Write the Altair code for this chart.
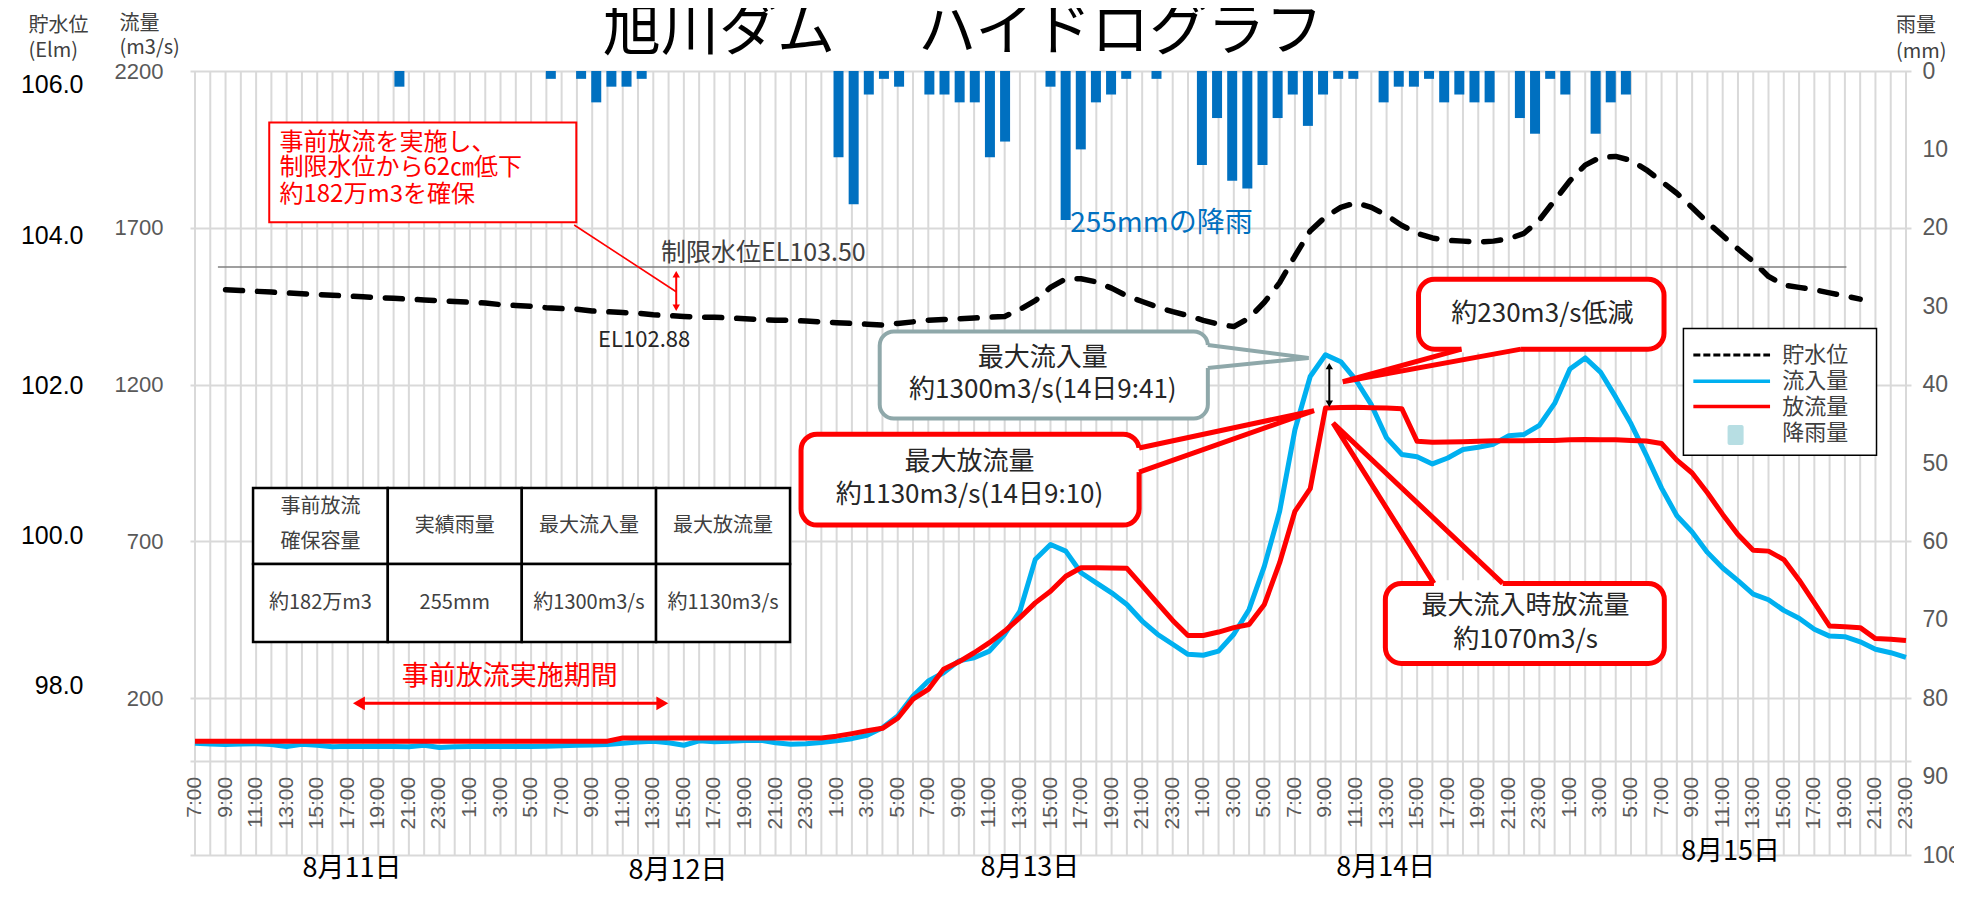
import altair as alt
import pandas as pd

JP = "Noto Sans CJK JP"
NUM = "Liberation Sans"
RED = "#FF0000"
BLUE_IN = "#00B0F0"
RAIN_BLUE = "#0070C0"
TXT = "#404040"
AX_GREY = "#595959"
GRID = "#D9D9D9"
CALLOUT_GREY = "#8FA8AA"

# ---------------- data (hour index 0 = 8/11 7:00 ... 112 = 8/15 23:00) ----------------
HOURS = list(range(113))
TIME_LABELS = [f"{(7 + k) % 24}:00" for k in range(0, 113, 2)]
DAY_LABELS = ["8月11日", "8月12日", "8月13日", "8月14日", "8月15日"]

INFLOW = [
    56, 54, 52, 54, 55, 52, 46, 53, 50, 45,
    47, 46, 47, 46, 45, 50, 43, 45, 46, 47,
    46, 46, 46, 47, 48, 50, 51, 52, 56, 60,
    63, 58, 50, 64, 61, 63, 65, 66, 58, 53,
    55, 59, 64, 71, 82, 106, 143, 207, 255, 281,
    319, 329, 350, 404, 478, 642, 690, 669, 600, 568,
    536, 499, 446, 404, 372, 340, 337, 350, 404, 483,
    621, 796, 1056, 1226, 1295, 1273, 1214, 1136, 1030, 977,
    970, 947, 966, 993, 1000, 1010, 1037, 1041, 1070, 1140,
    1250, 1285, 1240, 1160, 1075, 975, 870, 782, 730, 665,
    615, 575, 532, 514, 480, 455, 420, 398, 396, 380,
    356, 345, 330,
]
OUTFLOW = [
    63, 63, 63, 63, 63, 63, 63, 63, 63, 63,
    63, 63, 63, 63, 63, 63, 63, 63, 63, 63,
    63, 63, 63, 63, 63, 63, 63, 63, 73, 73,
    73, 73, 73, 73, 73, 73, 73, 73, 73, 73,
    73, 73, 79, 87, 96, 104, 136, 197, 228, 292,
    316, 345, 377, 414, 457, 504, 541, 589, 616, 616,
    615, 614, 559, 503, 448, 400, 400, 411, 425, 435,
    499, 632, 796, 868, 1125, 1127, 1128, 1126, 1125, 1123,
    1019, 1016, 1017, 1018, 1019, 1021, 1021, 1021, 1022, 1022,
    1024, 1025, 1024, 1024, 1022, 1020, 1012, 959, 918, 855,
    786, 722, 672, 669, 642, 577, 504, 430, 428, 425,
    390, 388, 384,
]
LEVEL_FIRST_HOUR = 2  # 8/11 9:00
LEVEL = [
    103.21, 103.20, 103.19, 103.18, 103.17, 103.16, 103.15, 103.14,
    103.13, 103.12, 103.11, 103.10, 103.09, 103.08, 103.07, 103.06, 103.05, 103.04,
    103.02, 103.01, 103.00, 102.98, 102.97, 102.96, 102.94, 102.93, 102.92, 102.91,
    102.89, 102.88, 102.87, 102.86, 102.86, 102.85, 102.84, 102.83, 102.82, 102.82,
    102.81, 102.80, 102.79, 102.78, 102.77, 102.76, 102.78, 102.80, 102.82, 102.83,
    102.84, 102.85, 102.86, 102.87, 102.96, 103.07, 103.24, 103.35, 103.35, 103.31,
    103.23, 103.13, 103.06, 102.99, 102.93, 102.88, 102.82, 102.77, 102.74, 102.85,
    103.05, 103.30, 103.64, 103.96, 104.14, 104.26, 104.32, 104.26, 104.16, 104.03,
    103.93, 103.87, 103.84, 103.83, 103.82, 103.83, 103.86, 103.93, 104.10, 104.35,
    104.60, 104.80, 104.90, 104.91, 104.86, 104.74, 104.59, 104.44, 104.26, 104.07,
    103.90, 103.73, 103.57, 103.38, 103.27, 103.24, 103.21, 103.17, 103.13, 103.09,
]
RAIN_HOUR = [13, 23, 25, 26, 27, 28, 29, 42, 43, 44, 45, 46, 48, 49, 50, 51, 52, 53,
             56, 57, 58, 59, 60, 61, 63, 66, 67, 68, 69, 70, 71, 72, 73, 74, 75, 76,
             78, 79, 80, 81, 82, 83, 84, 85, 87, 88, 89, 90, 92, 93, 94]
RAIN_MM = [2, 1, 1, 4, 2, 2, 1, 11, 17, 3, 1, 2, 3, 3, 4, 4, 11, 9,
           2, 19, 10, 4, 3, 1, 1, 12, 6, 14, 15, 12, 6, 3, 7, 3, 1, 1,
           4, 2, 2, 1, 4, 3, 4, 4, 6, 8, 1, 3, 8, 4, 3]
LIMIT_LEVEL = 103.50

TABLE_HEAD = [["事前放流", "確保容量"], ["実績雨量"], ["最大流入量"], ["最大放流量"]]
TABLE_VALUES = ["約182万m3", "255mm", "約1300m3/s", "約1130m3/s"]

# ---------------- annotation layout (x in hours, y in m3/s) ----------------
FLOW_MIN, FLOW_MAX = -300, 2200
TIME_LABEL_Y = -51
TABLE_COLS = [3.80, 12.62, 21.39, 30.18, 38.95]
TABLE_ROWS = [870, 628, 379]

TEXT_CENTER = [
    ("旭川ダム", 34.3, 2321, 58, "#000000"),
    ("ハイドログラフ", 60.6, 2321, 58, "#000000"),
    ("最大流入量", 55.5, 1285, 26, "#262626"),
    ("約1300m3/s(14日9:41)", 55.5, 1183, 26, "#262626"),
    ("最大放流量", 50.7, 954, 26, "#262626"),
    ("約1130m3/s(14日9:10)", 50.7, 848, 26, "#262626"),
    ("約230m3/s低減", 88.2, 1425, 26, "#262626"),
    ("最大流入時放流量", 87.1, 494, 26, "#262626"),
    ("約1070m3/s", 87.1, 386, 26, "#262626"),
    ("事前放流実施期間", 20.6, 269, 27, RED),
    ("EL102.88", 29.4, 1342, 22, "#262626"),
]
DAY_POS = [(10.28, -345), (31.62, -352), (54.65, -340), (77.94, -340), (100.52, -290)]

TEXT_LEFT = [
    ("貯水位", -10.9, 2343, 20, TXT), ("(Elm)", -10.9, 2265, 20, TXT),
    ("流量", -4.94, 2350, 20, TXT), ("(m3/s)", -4.94, 2272, 20, TXT),
    ("雨量", 111.35, 2343, 20, TXT), ("(mm)", 111.35, 2261, 20, TXT),
    ("事前放流を実施し、", 5.53, 1970, 24, RED),
    ("制限水位から62㎝低下", 5.53, 1891, 24, RED),
    ("約182万m3を確保", 5.53, 1805, 24, RED),
    ("制限水位EL103.50", 30.51, 1620, 25, TXT),
    ("255mmの降雨", 57.29, 1712, 28, RAIN_BLUE),
    ("貯水位", 103.9, 1294, 22, TXT), ("流入量", 103.9, 1211, 22, TXT),
    ("放流量", 103.9, 1130, 22, TXT), ("降雨量", 103.9, 1045, 22, TXT),
]

BOX_NOTE = [(4.86, 24.96, 2036, 1718)]
BOX_RED_CALLOUT = [(39.67, 61.80, 1042, 752), (80.09, 96.16, 1536, 1313), (77.92, 96.18, 566, 311)]
BOX_GREY_CALLOUT = [(44.82, 66.30, 1369, 1092)]
BOX_LEGEND = [(97.43, 110.07, 1379, 975)]

WEDGES = [  # (group, order, x, y, colour, width)
    ("g", 0, 66.30, 1326, CALLOUT_GREY, 4), ("g", 1, 72.9, 1285, CALLOUT_GREY, 4), ("g", 2, 66.30, 1253, CALLOUT_GREY, 4),
    ("a", 0, 61.80, 998, RED, 5), ("a", 1, 73.25, 1117, RED, 5), ("a", 2, 61.80, 921, RED, 5),
    ("b", 0, 82.9, 1313, RED, 5), ("b", 1, 75.13, 1209, RED, 5), ("b", 2, 86.8, 1313, RED, 5),
    ("c", 0, 81.1, 566, RED, 5), ("c", 1, 74.5, 1077, RED, 5), ("c", 2, 85.6, 566, RED, 5),
]
COVERS = [(66.30, 66.30, 1326, 1253), (61.80, 61.80, 998, 921), (82.9, 86.8, 1313, 1313), (81.1, 85.6, 566, 566)]

SEGMENTS = [  # (x1, x2, y1, y2, colour, width)
    (24.82, 31.5, 1709, 1496, RED, 1.6),
    (31.5, 31.5, 1549, 1448, RED, 2),
    (74.25, 74.25, 1256, 1142, "#000000", 2),
    (10.73, 30.59, 183.6, 183.6, RED, 3),
]
HEADS = [  # (x, y, shape, size, colour)
    (31.5, 1552, "triangle-up", 55, RED), (31.5, 1445, "triangle-down", 55, RED),
    (74.25, 1259, "triangle-up", 55, "#000000"), (74.25, 1139, "triangle-down", 55, "#000000"),
    (10.73, 183.6, "triangle-left", 190, RED), (30.59, 183.6, "triangle-right", 190, RED),
]
LEGEND_LINES = [(98.08, 103.1, 1211, BLUE_IN), (98.08, 103.1, 1130, RED)]
LEGEND_DASH = [(98.08, 103.1, 1294)]
LEGEND_SWATCH = [(100.32, 101.37, 1071, 1007)]
LIMIT_SPAN = [(1.5, 108.1)]

# ---------------- tables ----------------
flow_df = pd.DataFrame({"h": HOURS, "inflow": INFLOW, "outflow": OUTFLOW})
level_df = pd.DataFrame({"h": list(range(LEVEL_FIRST_HOUR, LEVEL_FIRST_HOUR + len(LEVEL))), "level": LEVEL})
rain_df = pd.DataFrame({"h": RAIN_HOUR, "mm": RAIN_MM})
grid_df = pd.DataFrame({"h": HOURS, "y1": FLOW_MIN, "y2": FLOW_MAX})
tick_df = pd.DataFrame({"h": HOURS[::2], "t": TIME_LABELS, "y": TIME_LABEL_Y})

XS = alt.Scale(domain=[0, 112], nice=False, zero=False)
FLOW = alt.Scale(domain=[FLOW_MIN, FLOW_MAX], nice=False, zero=False)
ELEV = alt.Scale(domain=[96, 106], nice=False, zero=False)
ELEV_LABEL = alt.Scale(domain=[95.75, 106.186], nice=False, zero=False)
RAIN = alt.Scale(domain=[0, 100], reverse=True, nice=False, zero=False)


def X(f):
    return alt.X(f"{f}:Q", scale=XS, axis=None)


def YF(f):
    return alt.Y(f"{f}:Q", scale=FLOW, axis=None)


flow_axis = alt.Axis(
    orient="left", values=[-300, 0, 200, 700, 1200, 1700, 2200], format="d",
    labelExpr="datum.value <= 0 ? '' : datum.label",
    labelFont=NUM, labelFontSize=22, labelColor=AX_GREY, labelPadding=27,
    ticks=False, domain=False, grid=True, gridColor=GRID, gridWidth=2, title=None,
)
elev_axis = alt.Axis(
    orient="left", values=[98, 100, 102, 104, 106], format=".1f",
    labelFont=NUM, labelFontSize=25, labelColor="#000000", labelPadding=2, offset=105,
    ticks=False, domain=False, grid=False, title=None,
)
rain_axis = alt.Axis(
    orient="right", values=list(range(0, 101, 10)),
    labelFont=NUM, labelFontSize=23, labelColor=AX_GREY, labelPadding=11,
    ticks=False, domain=False, grid=False, title=None,
)

vgrid = alt.Chart(grid_df).mark_rule(color=GRID, strokeWidth=2).encode(
    x=X("h"), y=alt.Y("y1:Q", scale=FLOW, axis=flow_axis), y2="y2:Q")
ticks = alt.Chart(tick_df).mark_text(
    angle=270, align="right", baseline="middle", font=NUM, fontSize=21, color=AX_GREY).encode(
    x=X("h"), y=YF("y"), text="t:N")

rain = alt.Chart(rain_df).transform_calculate(xc="(datum.h + 0.5) * 112 / 113").mark_bar(
    size=10, color=RAIN_BLUE).encode(
    x=X("xc"), y=alt.Y("mm:Q", scale=RAIN, axis=rain_axis), y2=alt.datum(0))

inflow = alt.Chart(flow_df).mark_line(color=BLUE_IN, strokeWidth=5, strokeJoin="round").encode(
    x=X("h"), y=YF("inflow"))
outflow = alt.Chart(flow_df).mark_line(color=RED, strokeWidth=5, strokeJoin="round").encode(
    x=X("h"), y=YF("outflow"))
level = alt.Chart(level_df).mark_line(color="#000000", strokeWidth=5.5, strokeDash=[17, 15],
                                      strokeCap="round", strokeJoin="round").encode(
    x=X("h"), y=alt.Y("level:Q", scale=ELEV, axis=None))
elev_labels = alt.Chart(pd.DataFrame({"h": [0, 0], "e": [98, 106]})).mark_point(opacity=0).encode(
    x=X("h"), y=alt.Y("e:Q", scale=ELEV_LABEL, axis=elev_axis))
limit = alt.Chart(pd.DataFrame(LIMIT_SPAN, columns=["x1", "x2"]).assign(e=LIMIT_LEVEL)).mark_rule(
    color="#7F7F7F", strokeWidth=1.5).encode(
    x=X("x1"), x2="x2:Q", y=alt.Y("e:Q", scale=ELEV, axis=None))

cells = []
for r in range(2):
    for c in range(4):
        cells.append((TABLE_COLS[c], TABLE_COLS[c + 1], TABLE_ROWS[r], TABLE_ROWS[r + 1]))
BOXCOLS = ["x1", "x2", "y1", "y2"]


def boxes(rows, **mark):
    return alt.Chart(pd.DataFrame(rows, columns=BOXCOLS)).mark_rect(**mark).encode(
        x=X("x1"), x2="x2:Q", y=YF("y1"), y2="y2:Q")


table = boxes(cells, fill="white", stroke="#000000", strokeWidth=2.5)
note_box = boxes(BOX_NOTE, fill="white", stroke=RED, strokeWidth=2)
red_callouts = boxes(BOX_RED_CALLOUT, fill="white", stroke=RED, strokeWidth=5, cornerRadius=16)
grey_callout = boxes(BOX_GREY_CALLOUT, fill="white", stroke=CALLOUT_GREY, strokeWidth=4, cornerRadius=14)
legend_box = boxes(BOX_LEGEND, fill="white", stroke="#000000", strokeWidth=1.5)
swatch = boxes(LEGEND_SWATCH, fill="#B7DEE3", cornerRadius=2)

covers = alt.Chart(pd.DataFrame(COVERS, columns=BOXCOLS)).mark_rule(color="white", strokeWidth=6.5).encode(
    x=X("x1"), x2="x2:Q", y=YF("y1"), y2="y2:Q")
wedges = alt.Chart(pd.DataFrame(WEDGES, columns=["g", "k", "x", "y", "c", "w"])).mark_line(
    strokeJoin="miter").encode(
    x=X("x"), y=YF("y"), detail="g:N", order=alt.Order("k:Q"),
    color=alt.Color("c:N", scale=None), strokeWidth=alt.StrokeWidth("w:Q", scale=None))
segments = alt.Chart(pd.DataFrame(SEGMENTS, columns=["x1", "x2", "y1", "y2", "c", "w"])).mark_rule().encode(
    x=X("x1"), x2="x2:Q", y=YF("y1"), y2="y2:Q",
    color=alt.Color("c:N", scale=None), strokeWidth=alt.StrokeWidth("w:Q", scale=None))
heads = alt.Chart(pd.DataFrame(HEADS, columns=["x", "y", "s", "sz", "c"])).mark_point(
    filled=True, opacity=1, strokeWidth=0).encode(
    x=X("x"), y=YF("y"), shape=alt.Shape("s:N", scale=None),
    size=alt.Size("sz:Q", scale=None), color=alt.Color("c:N", scale=None))
legend_lines = alt.Chart(pd.DataFrame(LEGEND_LINES, columns=["x1", "x2", "y", "c"])).mark_rule(
    strokeWidth=3.5).encode(x=X("x1"), x2="x2:Q", y=YF("y"), color=alt.Color("c:N", scale=None))
legend_dash = alt.Chart(pd.DataFrame(LEGEND_DASH, columns=["x1", "x2", "y"])).mark_rule(
    strokeWidth=3, color="#000000", strokeDash=[7, 3]).encode(x=X("x1"), x2="x2:Q", y=YF("y"))

tc_rows = list(TEXT_CENTER)
for c in range(4):
    cx = (TABLE_COLS[c] + TABLE_COLS[c + 1]) / 2
    head = TABLE_HEAD[c]
    if len(head) == 2:
        tc_rows.append((head[0], cx, 810, 20, TXT))
        tc_rows.append((head[1], cx, 698, 20, TXT))
    else:
        tc_rows.append((head[0], cx, 749, 20, TXT))
    tc_rows.append((TABLE_VALUES[c], cx, 504, 20, TXT))
for lab, (dx, dy) in zip(DAY_LABELS, DAY_POS):
    tc_rows.append((lab, dx, dy, 27, "#000000"))
TCOLS = ["t", "x", "y", "fs", "c"]
text_center = alt.Chart(pd.DataFrame(tc_rows, columns=TCOLS)).mark_text(
    font=JP, align="center", baseline="middle").encode(
    x=X("x"), y=YF("y"), text="t:N",
    size=alt.Size("fs:Q", scale=None), color=alt.Color("c:N", scale=None))
text_left = alt.Chart(pd.DataFrame(TEXT_LEFT, columns=TCOLS)).mark_text(
    font=JP, align="left", baseline="middle").encode(
    x=X("x"), y=YF("y"), text="t:N",
    size=alt.Size("fs:Q", scale=None), color=alt.Color("c:N", scale=None))

chart = alt.layer(
    vgrid, ticks, rain, inflow, outflow, level, elev_labels, limit,
    table, note_box, red_callouts, grey_callout, legend_box, swatch,
    covers, wedges, segments, heads, legend_lines, legend_dash,
    text_center, text_left,
).resolve_scale(y="independent").properties(
    width=1721, height=784,
    padding={"left": 182, "top": 63, "right": 43, "bottom": 55},
    autosize=alt.AutoSizeParams(type="none"),
).configure_view(stroke=None)

chart.save("out.html", embed_options={"renderer": "svg", "actions": False})
